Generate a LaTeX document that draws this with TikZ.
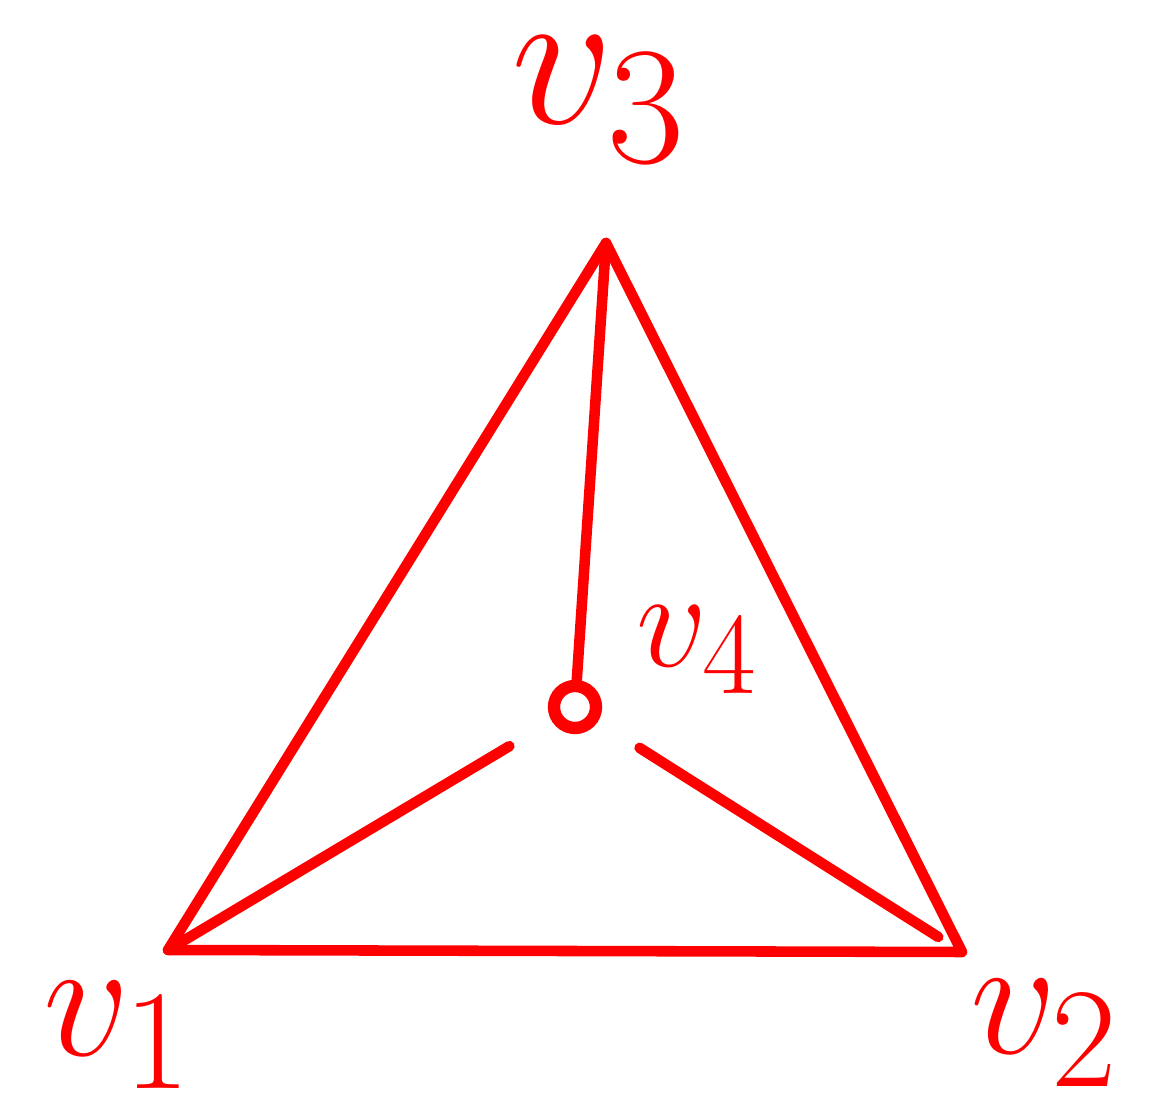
\documentclass[tikz,border=0pt]{standalone}
\usepackage{amsmath}
\usepackage{graphicx}
\usetikzlibrary{positioning}
\newcommand{\biglbl}[2]{\scalebox{#1}{\Huge$#2$}}
\begin{document}
\begin{tikzpicture}[x=0.01cm, y=-0.01cm,
  edge/.style={draw=red, line width=3pt, line cap=round, line join=round},
  lbl/.style={text=red}]
\useasboundingbox (0,0) rectangle (1154,1107);
% corners of the triangle
\coordinate (v1) at (168,950);
\coordinate (v2) at (962,952);
\coordinate (v3) at (606,243);
\node[circle, draw=red, line width=3.5pt, minimum size=0.42cm, inner sep=0pt] (v4) at (575,707) {};
% labels
\node[lbl] (l1) at (118,1035) {\biglbl{1.95}{v_1}};
\node[lbl] (l2) at (1045,1033) {\biglbl{1.95}{v_2}};
\node[lbl] (l3) at (600,100) {\biglbl{2.3}{v_3}};
\node[lbl] (l4) at (698,650) {\biglbl{1.6}{v_4}};
% edges
\draw[edge] (v1) -- (v2) -- (v3) -- cycle;
\draw[edge] (v4) -- (v3);
\draw[edge, shorten <=14pt] (v4) -- (v1);
\draw[edge, shorten <=14pt, shorten >=8pt] (v4) -- (v2);
\end{tikzpicture}
\end{document}
